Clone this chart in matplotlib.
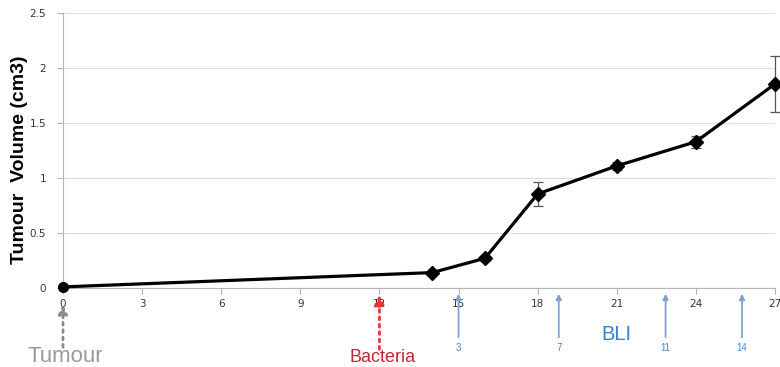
import matplotlib
matplotlib.use("Agg")
import matplotlib.pyplot as plt

days = [0, 14, 16, 18, 21, 24, 27]
volume = [0.01, 0.14, 0.27, 0.855, 1.11, 1.33, 1.855]
errors = [0.0, 0.0, 0.02, 0.105, 0.035, 0.055, 0.255]
xticks = [0, 3, 6, 9, 12, 15, 18, 21, 24, 27]
yticks = [0, 0.5, 1, 1.5, 2, 2.5]
ytick_labels = ["0", "0.5", "1", "1.5", "2", "2.5"]
bli_days = [15, 18.8, 22.85, 25.75]
bli_labels = ["3", "7", "11", "14"]
tumour_day = 0
bacteria_day = 12

fig = plt.figure(figsize=(7.8, 3.67), dpi=100)
ax = fig.add_axes([63/780, 1-288/367, (775-63)/780, (288-13)/367])

eb = ax.errorbar(days, volume, yerr=errors, fmt='none', ecolor='#555555',
                 elinewidth=0.9, capsize=3.5, capthick=0.9, zorder=2)
for art in eb.lines[1] + eb.lines[2]:
    art.set_clip_on(False)
ax.plot(days, volume, color='black', lw=2.3, zorder=3, clip_on=False)
ax.plot(days[1:], volume[1:], 'D', color='black', ms=7, zorder=4, clip_on=False)
ax.plot(days[:1], volume[:1], 'o', color='black', ms=7, zorder=4, clip_on=False)

ax.set_xlim(0, 27)
ax.set_ylim(0, 2.5)
ax.set_xticks(xticks)
ax.set_xticklabels([str(t) for t in xticks])
ax.set_yticks(yticks)
ax.set_yticklabels(ytick_labels)
ax.tick_params(axis='both', labelsize=7.5, colors='#b0b0b0', labelcolor='#333333',
               length=4, width=0.8)
ax.tick_params(axis='x', pad=4)
ax.tick_params(axis='y', pad=8)
ax.grid(axis='y', color='#dedede', lw=0.8)
ax.set_axisbelow(True)
for s in ['top', 'right']:
    ax.spines[s].set_visible(False)
for s in ['left', 'bottom']:
    ax.spines[s].set_color('#b5b5b5')
    ax.spines[s].set_linewidth(0.8)

fig.text(20/780, 1-160/367, "Tumour  Volume (cm3)", rotation=90, ha='center',
         va='center', fontsize=14, fontweight='bold', family='Liberation Sans')

tr = ax.get_xaxis_transform()
def yfrac(py):
    return (288 - py) / 275.0

# Tumour arrow
ax.annotate("", xy=(tumour_day, yfrac(302)), xycoords=tr,
            xytext=(tumour_day, yfrac(350)), textcoords=tr,
            arrowprops=dict(arrowstyle='-|>', color='#8a8a8a', lw=2,
                            linestyle=':', mutation_scale=13), annotation_clip=False)
ax.text(tumour_day + 0.1, yfrac(356), "Tumour", transform=tr, ha='center', va='center',
        fontsize=16, color='#999999', family='Liberation Sans')

# Bacteria arrow
ax.annotate("", xy=(bacteria_day, yfrac(292)), xycoords=tr,
            xytext=(bacteria_day, yfrac(352)), textcoords=tr,
            arrowprops=dict(arrowstyle='-|>', color='#ee3333', lw=2,
                            linestyle=':', mutation_scale=15), annotation_clip=False)
ax.text(bacteria_day + 0.1, yfrac(358), "Bacteria", transform=tr, ha='center', va='center',
        fontsize=13, color='#cc2233', family='Liberation Sans')

# BLI arrows
for d, lab in zip(bli_days, bli_labels):
    ax.annotate("", xy=(d, yfrac(291)), xycoords=tr,
                xytext=(d, yfrac(340)), textcoords=tr,
                arrowprops=dict(arrowstyle='-|>', color='#7fa3cc', lw=1.3,
                                mutation_scale=8), annotation_clip=False)
    ax.text(d, yfrac(348), lab, transform=tr, ha='center', va='center',
            fontsize=7, color='#4a86c5', family='Liberation Sans')
ax.text(21, yfrac(335), "BLI", transform=tr, ha='center', va='center',
        fontsize=14.5, color='#3a80c8', family='Liberation Sans')

fig.savefig("out.png", dpi=100)
